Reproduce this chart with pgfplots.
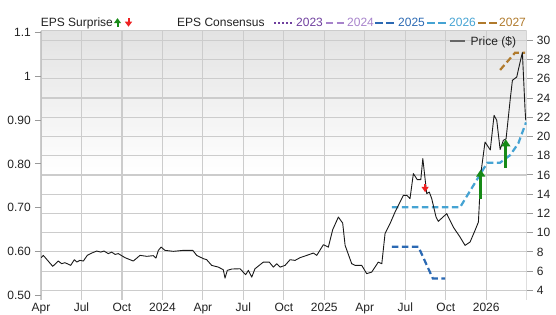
\documentclass[border=0pt]{standalone}
\usepackage{fontspec}
\setmainfont{Liberation Sans}
\usepackage{pgfplots}
\pgfplotsset{compat=1.18}
\usetikzlibrary{arrows.meta}
\definecolor{gridc}{HTML}{CCCCCC}
\definecolor{bordc}{HTML}{C4C4C4}
\definecolor{tickc}{HTML}{999999}
\definecolor{txtc}{HTML}{222222}
\definecolor{c2023}{HTML}{6F3F9E}
\definecolor{c2024}{HTML}{A783CB}
\definecolor{c2025}{HTML}{2B69B3}
\definecolor{c2026}{HTML}{45A3D3}
\definecolor{c2027}{HTML}{B07A2C}
\definecolor{upg}{HTML}{178A17}
\definecolor{dnr}{HTML}{EE2222}
\definecolor{bgtop}{HTML}{E3E3E3}
\begin{document}
\fontsize{12}{14}\selectfont
\begin{tikzpicture}
\useasboundingbox (0pt,0pt) rectangle (556pt,315pt);
\pgfplotsset{
  base/.style={at={(41pt,15pt)}, anchor=south west, scale only axis,
    width=485.7pt, height=269.3pt, xmin=0, xmax=36,
    tick label style={text=txtc}},
}
% background gradient (upper part of the plot area), drawn as solid bands
\foreach \i in {0,...,35}{
  \pgfmathsetmacro{\pct}{100*(1-\i/35)}
  \pgfmathsetmacro{\ytop}{284.3-4*\i}
  \fill[bgtop!\pct!white] (41pt,\ytop pt) rectangle (526.7pt,\ytop pt-4.2pt);
}
% ---------- grid, right axis ----------
\begin{axis}[base, ymin=3, ymax=31,
  axis line style={draw=none},
  grid=major, grid style={draw=gridc, line width=1.1pt},
  xtick={0,3,...,33},
  xticklabels={Apr,Jul,Oct,2024,Apr,Jul,Oct,2025,Apr,Jul,Oct,2026},
  ytick={4,6,...,30},
  yticklabels={4,6,8,10,12,14,16,18,20,22,24,26,28,30},
  ytick pos=right, xtick pos=bottom, tick align=outside,
  major tick length=6pt,
  x tick style={draw=none},
  y tick style={draw=tickc, line width=1pt},
  xticklabel style={yshift=7pt},
]
\draw[gridc, line width=1.1pt] (rel axis cs:0,1) -- (rel axis cs:1,1) -- (rel axis cs:1,0);
\draw[bordc, line width=2.4pt] (rel axis cs:0,0) -- (rel axis cs:0,1);
\end{axis}
% ---------- EPS consensus (left axis) ----------
\begin{axis}[base, ymin=0.4886, ymax=1.1048,
  hide x axis, axis line style={draw=none},
  ytick={0.5,0.6,0.7,0.8,0.9,1,1.1},
  yticklabels={0.50,0.60,0.70,0.80,0.90,1,1.1},
  ytick pos=left, tick align=outside, major tick length=6pt,
  y tick style={draw=tickc, line width=1pt},
]
\addplot[c2025, line width=2.2pt, dash pattern=on 6.5pt off 3.5pt] coordinates {
(26,0.6105) (27.97,0.6105) (29.04,0.538) (29.95,0.538)};
\addplot[c2026, line width=2.2pt, dash pattern=on 6.5pt off 3.5pt] coordinates {
(26,0.7007) (31.06,0.7007) (33.08,0.8028) (34.03,0.8028) (34.77,0.820) (35.38,0.847) (35.95,0.895)};
\addplot[c2027, line width=2.2pt, dash pattern=on 6.5pt off 3.5pt] coordinates {
(34.03,1.015) (35.14,1.0545) (35.88,1.0545)};
\end{axis}
% ---------- price (right axis) and surprise arrows ----------
\begin{axis}[base, ymin=3, ymax=31, hide axis]
\addplot[black!90, line width=0.9pt, line join=round] coordinates {
(0.00,7.40) (0.17,7.64) (0.87,6.50) (1.28,7.05) (1.53,6.78) (1.78,6.88)
(2.20,6.60) (2.47,7.19) (2.65,6.95) (2.89,7.12) (3.14,7.05) (3.43,7.64)
(3.76,7.88) (4.13,8.09) (4.43,7.98) (4.67,8.09) (4.99,7.82) (5.24,7.98)
(5.49,7.74) (5.73,7.82) (6.23,7.40) (6.84,7.05) (7.34,7.64) (7.84,7.54)
(8.32,7.61) (8.52,7.36) (8.70,8.16) (8.90,8.50) (9.19,8.16) (9.81,8.06)
(10.55,8.16) (11.25,8.16) (11.54,7.64) (12.03,7.30) (12.28,7.19) (12.65,6.60)
(13.14,6.42) (13.51,6.15) (13.64,5.28) (13.81,6.08) (14.14,6.22) (14.75,6.25)
(15.17,5.63) (15.37,6.08) (15.62,5.38) (15.86,6.25) (16.48,6.94) (16.92,6.94)
(17.22,6.42) (17.47,6.77) (17.72,6.42) (18.09,6.60) (18.46,7.19) (18.83,7.12)
(19.20,7.40) (19.70,7.64) (20.19,7.88) (20.44,7.64) (20.93,8.75) (21.30,8.50)
(21.62,10.31) (22.04,11.62) (22.36,11.00) (22.54,8.68) (23.03,6.77) (23.28,6.60)
(23.77,6.60) (24.14,5.74) (24.51,5.90) (25.00,6.94) (25.26,6.77) (25.50,9.90)
(25.87,10.94) (26.24,12.14) (26.49,12.84) (26.86,13.88) (27.11,13.88) (27.35,13.54)
(27.60,16.14) (27.89,15.51) (28.15,15.51) (28.30,17.70) (28.59,14.06) (28.78,14.22)
(28.96,13.54) (29.28,11.62) (29.45,11.18) (30.07,11.98) (30.56,10.58) (31.06,9.54)
(31.43,8.68) (31.80,9.02) (32.17,10.24) (32.42,11.10) (32.60,16.14) (32.91,19.42)
(33.30,18.60) (33.58,22.20) (33.78,21.68) (34.03,18.65) (34.27,19.60) (34.47,19.75)
(34.77,23.76) (34.94,25.84) (35.26,26.18) (35.51,27.74) (35.68,28.72) (35.88,22.72)
(35.93,21.68)};
\addplot[upg, line width=2.6pt, -{Triangle[width=9pt,length=7pt]}] coordinates {(32.59,13.54) (32.59,16.55)};
\addplot[upg, line width=2.6pt, -{Triangle[width=9pt,length=7pt]}] coordinates {(34.45,16.76) (34.45,19.70)};
\addplot[dnr, line width=2pt, -{Triangle[width=7pt,length=5.5pt]}] coordinates {(28.47,15.05) (28.47,14.20)};
\end{axis}
% ---------- header legend ----------
\node[anchor=base west, inner sep=0, text=txtc] at (40.7pt,288pt) {EPS Surprise};
\draw[upg, line width=2pt, -{Triangle[width=7pt,length=5pt]}] (117.5pt,288.3pt) -- (117.5pt,296.8pt);
\draw[dnr, line width=2pt, -{Triangle[width=7pt,length=5pt]}] (128.5pt,296.8pt) -- (128.5pt,288.3pt);
\node[anchor=base west, inner sep=0, text=txtc] at (177pt,288pt) {EPS Consensus};
\draw[c2023, line width=2pt, dash pattern=on 2pt off 2pt] (274pt,292.3pt) -- (294pt,292.3pt);
\node[anchor=base west, inner sep=0, text=c2023] at (296pt,288pt) {2023};
\draw[c2024, line width=2pt, dash pattern=on 7pt off 3.5pt] (326pt,292.3pt) -- (343.5pt,292.3pt);
\node[anchor=base west, inner sep=0, text=c2024] at (347pt,288pt) {2024};
\draw[c2025, line width=2pt, dash pattern=on 7.5pt off 3.5pt] (375pt,292.3pt) -- (394pt,292.3pt);
\node[anchor=base west, inner sep=0, text=c2025] at (398pt,288pt) {2025};
\draw[c2026, line width=2pt, dash pattern=on 7.5pt off 3.5pt] (427pt,292.3pt) -- (446pt,292.3pt);
\node[anchor=base west, inner sep=0, text=c2026] at (449pt,288pt) {2026};
\draw[c2027, line width=2pt, dash pattern=on 7.5pt off 3.5pt] (478pt,292.3pt) -- (497pt,292.3pt);
\node[anchor=base west, inner sep=0, text=c2027] at (499pt,288pt) {2027};
% price legend
\draw[black!60, line width=2pt] (450pt,274pt) -- (465pt,274pt);
\node[anchor=base west, inner sep=0, text=txtc] at (470.5pt,269.7pt) {Price (\$)};
\end{tikzpicture}
\end{document}
